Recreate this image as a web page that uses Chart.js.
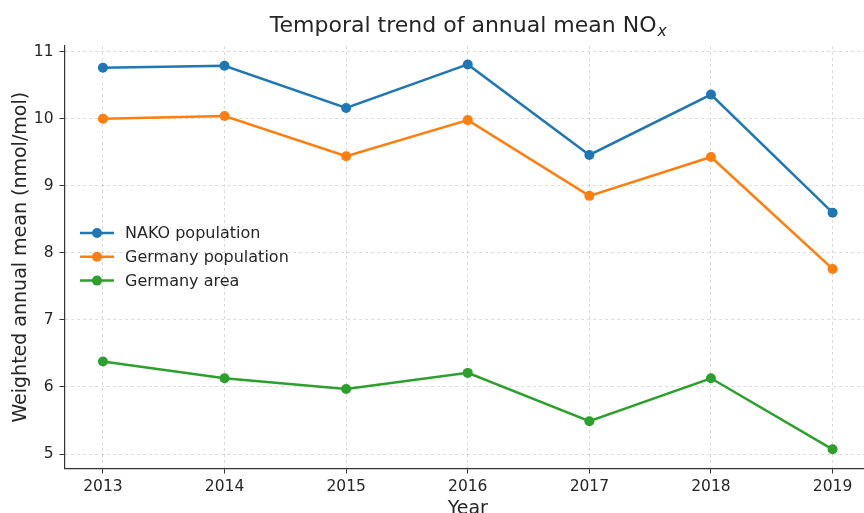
<!DOCTYPE html>
<html>
<head>
<meta charset="utf-8">
<script src="https://cdn.jsdelivr.net/npm/chart.js@4/dist/chart.umd.min.js"></script>
<style>
  html, body { margin: 0; padding: 0; overflow: hidden; background: #fff; }
  #wrap { width: 876px; height: 525px; }
</style>
</head>
<body>
<div id="wrap"><canvas id="chart"></canvas></div>
<script>
const years = [2013, 2014, 2015, 2016, 2017, 2018, 2019];
const nakoPopulation = [10.76, 10.79, 10.16, 10.81, 9.46, 10.36, 8.60];
const germanyPopulation = [10.0, 10.04, 9.44, 9.98, 8.85, 9.43, 7.76];
const germanyArea = [6.38, 6.13, 5.97, 6.21, 5.49, 6.13, 5.07];
const yTicks = [5, 6, 7, 8, 9, 10, 11];

const FONT = "'DejaVu Sans', sans-serif";
const TEXT = "#262626";

const toPoints = (values) => values.map((v, i) => ({ x: years[i], y: v }));

const series = (label, values, color) => ({
  label: label,
  data: toPoints(values),
  borderColor: color,
  backgroundColor: color,
  borderWidth: 2.5,
  pointRadius: 5,
  pointHoverRadius: 5,
  pointBorderWidth: 0,
  tension: 0,
});

// title with subscript x, centred over the plot area
const titlePlugin = {
  id: "subTitle",
  afterDraw(chart) {
    const { ctx, chartArea } = chart;
    const main = "Temporal trend of annual mean NO";
    ctx.save();
    ctx.fillStyle = TEXT;
    ctx.textBaseline = "alphabetic";
    ctx.font = `22px ${FONT}`;
    const w1 = ctx.measureText(main).width;
    ctx.font = `italic 15.5px ${FONT}`;
    const w2 = ctx.measureText("x").width;
    let x = (chartArea.left + chartArea.right) / 2 - (w1 + w2) / 2;
    ctx.font = `22px ${FONT}`;
    ctx.fillText(main, x, 32);
    ctx.font = `italic 15.5px ${FONT}`;
    ctx.fillText("x", x + w1 + 1, 36);
    ctx.restore();
  },
};

// legend drawn inside the axes, matplotlib style (no frame)
const legendPlugin = {
  id: "innerLegend",
  afterDatasetsDraw(chart) {
    const { ctx } = chart;
    ctx.save();
    chart.data.datasets.forEach((ds, i) => {
      const y = 233 + i * 23.8;
      ctx.strokeStyle = ds.borderColor;
      ctx.lineWidth = 2.5;
      ctx.beginPath();
      ctx.moveTo(80, y);
      ctx.lineTo(114, y);
      ctx.stroke();
      ctx.fillStyle = ds.borderColor;
      ctx.beginPath();
      ctx.arc(97, y, 5, 0, Math.PI * 2);
      ctx.fill();
      ctx.fillStyle = TEXT;
      ctx.font = `16px ${FONT}`;
      ctx.textBaseline = "middle";
      ctx.fillText(ds.label, 125, y + 1);
    });
    ctx.restore();
  },
};

const gridStyle = {
  color: "rgba(0,0,0,0.18)",
  lineWidth: 0.8,
  tickColor: "#333",
  tickBorderDash: [],
  tickWidth: 1,
  tickLength: 5,
};
const borderStyle = { display: true, color: "#333", width: 1.2, dash: [3, 3] };

new Chart(document.getElementById("chart"), {
  type: "line",
  data: {
    datasets: [
      series("NAKO population", nakoPopulation, "#1f77b4"),
      series("Germany population", germanyPopulation, "#ff7f0e"),
      series("Germany area", germanyArea, "#2ca02c"),
    ],
  },
  options: {
    responsive: true,
    maintainAspectRatio: false,
    animation: false,
    events: [],
    layout: { padding: { left: 0, top: 46, right: 2.5, bottom: 0 } },
    plugins: {
      legend: { display: false },
      title: { display: false },
      tooltip: { enabled: false },
    },
    scales: {
      x: {
        type: "linear",
        min: 2012.684,
        max: 2019.316,
        afterBuildTicks: (axis) => {
          axis.ticks = years.map((v) => ({ value: v }));
        },
        afterFit: (axis) => {
          axis.height = 56.5;
        },
        grid: gridStyle,
        border: borderStyle,
        ticks: {
          color: TEXT,
          font: { family: FONT, size: 15.5 },
          padding: 4,
          maxRotation: 0,
          callback: (v) => String(v),
        },
        title: {
          display: true,
          text: "Year",
          color: TEXT,
          font: { family: FONT, size: 19 },
          padding: { top: 0, bottom: 5 },
        },
      },
      y: {
        min: 4.784,
        max: 11.085,
        afterBuildTicks: (axis) => {
          axis.ticks = yTicks.map((v) => ({ value: v }));
        },
        afterFit: (axis) => {
          axis.width = 64.5;
        },
        grid: gridStyle,
        border: borderStyle,
        ticks: {
          color: TEXT,
          font: { family: FONT, size: 15.5 },
          padding: 6,
        },
        title: {
          display: true,
          text: "Weighted annual mean (nmol/mol)",
          color: TEXT,
          font: { family: FONT, size: 19 },
          padding: { top: 10, bottom: 10 },
        },
      },
    },
  },
  plugins: [titlePlugin, legendPlugin],
});
</script>
</body>
</html>
